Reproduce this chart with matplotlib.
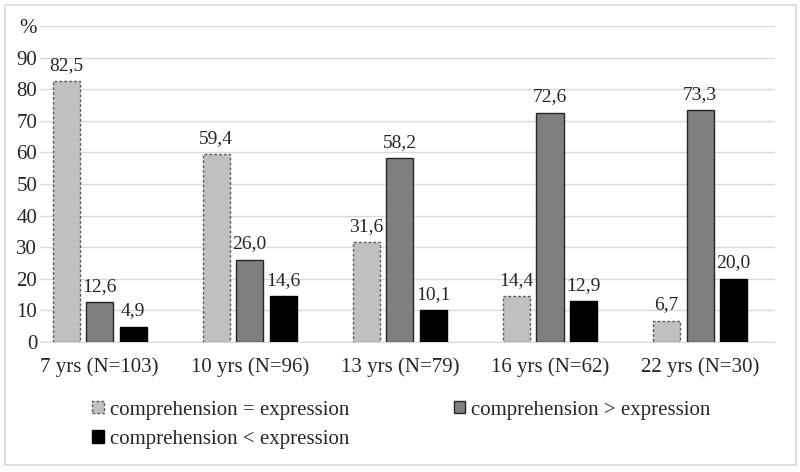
import matplotlib
matplotlib.use("Agg")
import matplotlib.pyplot as plt
from matplotlib.patches import Rectangle
import numpy as np

groups = ["7 yrs (N=103)", "10 yrs (N=96)", "13 yrs (N=79)", "16 yrs (N=62)", "22 yrs (N=30)"]
equal_vals = [82.5, 59.4, 31.6, 14.4, 6.7]
greater_vals = [12.6, 26.0, 58.2, 72.6, 73.3]
less_vals = [4.9, 14.6, 10.1, 12.9, 20.0]
series_names = ["comprehension = expression", "comprehension > expression", "comprehension < expression"]
y_ticks = [0, 10, 20, 30, 40, 50, 60, 70, 80, 90, 100]
y_labels = ["0", "10", "20", "30", "40", "50", "60", "70", "80", "90", "%"]

plt.rcParams['font.family'] = ['Liberation Serif', 'DejaVu Serif']

fig = plt.figure(figsize=(8, 4.72), dpi=100)
ax = fig.add_axes([0.05, 0.2754, 0.919, 0.6696])

# outer frame like the Excel chart area
fig.patches.append(Rectangle((5 / 800, 7 / 472), 791 / 800, 460 / 472, transform=fig.transFigure,
                             fill=False, edgecolor="#d9d9d9", linewidth=1.2))

x = np.arange(len(groups))
w = 0.18
off = 0.223

b1 = ax.bar(x - off, equal_vals, w, color="#c0c0c0", edgecolor="#595959", linestyle=(0, (2, 1.5)),
            linewidth=1.0, label=series_names[0], zorder=3)
b2 = ax.bar(x, greater_vals, w, color="#7f7f7f", edgecolor="#262626", linewidth=1.0,
            label=series_names[1], zorder=3)
b3 = ax.bar(x + off, less_vals, w, color="#000000", edgecolor="#000000", linewidth=1.0,
            label=series_names[2], zorder=3)

for bars, vals in [(b1, equal_vals), (b2, greater_vals), (b3, less_vals)]:
    for rect, v in zip(bars, vals):
        ax.text(rect.get_x() + rect.get_width() / 2, v + 2.3, f"{v:.1f}".replace(".", ","),
                ha="center", va="bottom", fontsize=14, color="#262626")

ax.set_xlim(-0.397, 4.5)
ax.set_ylim(0, 100)
ax.set_yticks(y_ticks)
ax.set_yticklabels(y_labels)
ax.set_xticks(x)
ax.set_xticklabels(groups)
ax.tick_params(axis="both", length=0, labelsize=15, colors="#262626")
ax.tick_params(axis="y", pad=2)
ax.tick_params(axis="x", pad=11)
ax.grid(axis="y", color="#d9d9d9", linewidth=1.0, zorder=0)
for s in ["top", "right", "left"]:
    ax.spines[s].set_visible(False)
ax.spines["bottom"].set_color("#d9d9d9")

leg = fig.legend([b1, b3, b2], [series_names[0], series_names[2], series_names[1]], ncol=2,
                 loc="center", bbox_to_anchor=(0.502, 0.1), frameon=False, fontsize=15,
                 handlelength=0.55, handleheight=0.55, handletextpad=0.3, columnspacing=5.0,
                 labelspacing=0.5)
for t in leg.get_texts():
    t.set_fontfamily(["Liberation Serif"])
    t.set_color("#262626")

fig.savefig("out.png", dpi=100)
